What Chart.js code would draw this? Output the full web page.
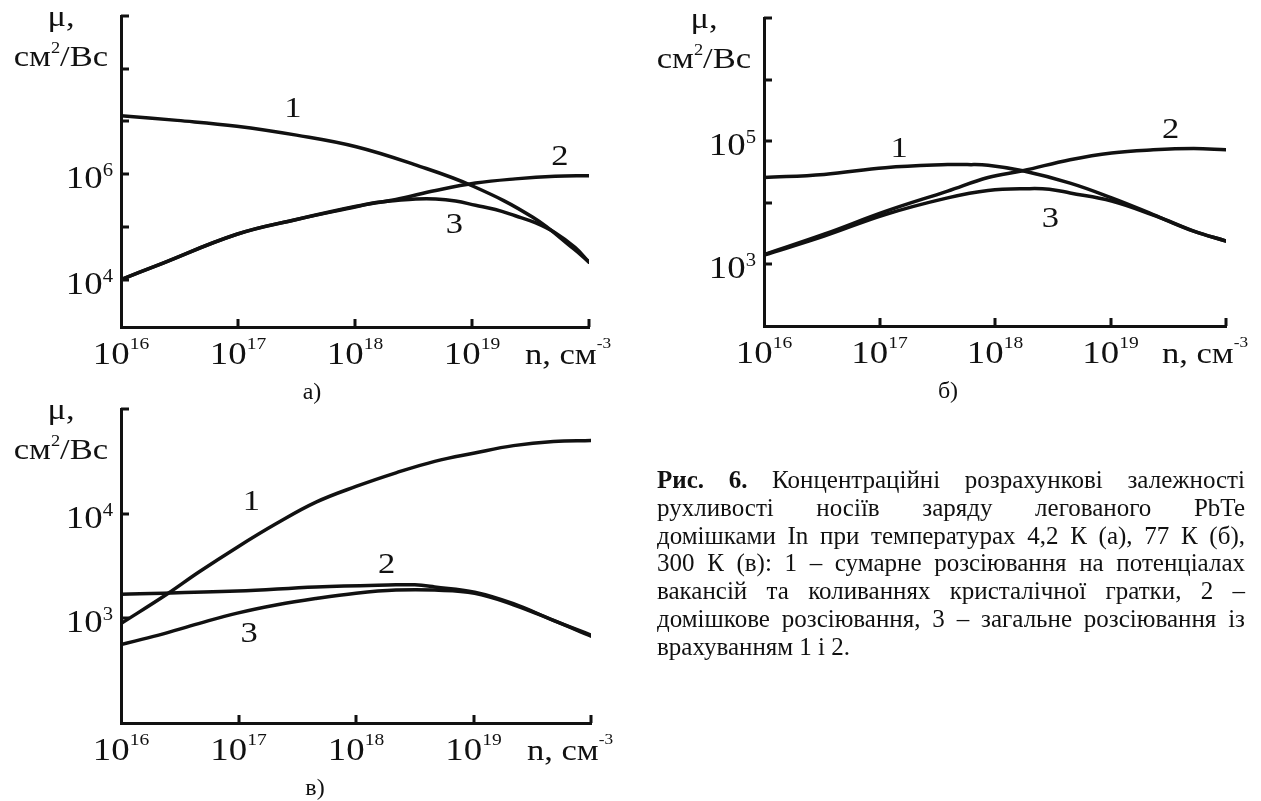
<!DOCTYPE html>
<html>
<head>
<meta charset="utf-8">
<script src="https://cdn.jsdelivr.net/npm/chart.js@4.4.1/dist/chart.umd.min.js"></script>
<style>
html,body{margin:0;padding:0;background:#fff;}
body{width:1261px;height:801px;position:relative;overflow:hidden;}
canvas{position:absolute;left:0;top:0;}
#caption{position:absolute;left:657px;top:466px;width:588px;font-family:"Liberation Serif","Times New Roman",serif;font-size:25px;line-height:27.8px;color:#111;}
#caption .l{text-align:justify;text-align-last:justify;}
#caption .last{text-align:left;}
</style>
</head>
<body>
<canvas id="cA" width="1261" height="801"></canvas>
<canvas id="cB" width="1261" height="801"></canvas>
<canvas id="cC" width="1261" height="801"></canvas>
<div id="caption">
<div class="l"><b>Рис. 6.</b> Концентраційні розрахункові залежності</div>
<div class="l">рухливості носіїв заряду легованого PbTe</div>
<div class="l">домішками In при температурах 4,2 К (а), 77 К (б),</div>
<div class="l">300 К (в): 1 – сумарне розсіювання на потенціалах</div>
<div class="l">вакансій та коливаннях кристалічної гратки, 2 –</div>
<div class="l">домішкове розсіювання, 3 – загальне розсіювання із</div>
<div class="last">врахуванням 1 і 2.</div>
</div>
<script>
// ---------- DATA (log10 values) ----------
// x: log10 n (cm^-3), y: log10 mu (cm^2/Vs)
// Panel а) 4.2 K
const nA1  = [16.0, 16.48, 16.99, 17.50, 18.01, 18.51, 19.01, 19.52, 19.87, 20.0];
const muA1 = [7.11, 7.02, 6.91, 6.74, 6.52, 6.18, 5.77, 5.18, 4.58, 4.33];
const nA2  = [16.0, 16.31, 16.99, 17.50, 18.01, 18.35, 18.69, 19.03, 19.37, 19.71, 20.0];
const muA2 = [4.0, 4.27, 4.86, 5.14, 5.39, 5.52, 5.69, 5.83, 5.91, 5.96, 5.97];
const nA3  = [16.0, 16.31, 16.99, 17.50, 18.01, 18.18, 18.35, 18.52, 18.69, 18.86, 19.03, 19.20, 19.37, 19.54, 19.71, 19.88, 20.0];
const muA3 = [4.0, 4.27, 4.86, 5.14, 5.38, 5.46, 5.50, 5.53, 5.53, 5.49, 5.41, 5.33, 5.21, 5.08, 4.89, 4.61, 4.33];
// Panel б) 77 K
const nB1  = [16.0, 16.52, 17.05, 17.59, 17.76, 17.94, 18.24, 18.65, 19.01, 19.37, 19.72, 20.0];
const muB1 = [4.41, 4.46, 4.57, 4.62, 4.62, 4.61, 4.52, 4.32, 4.08, 3.81, 3.54, 3.38];
const nB2  = [16.0, 16.52, 17.05, 17.59, 17.94, 18.24, 18.65, 19.01, 19.37, 19.72, 20.0];
const muB2 = [3.16, 3.49, 3.86, 4.19, 4.41, 4.52, 4.70, 4.81, 4.86, 4.88, 4.86];
const nB3  = [16.0, 16.52, 17.05, 17.59, 17.94, 18.30, 18.47, 18.65, 19.01, 19.37, 19.72, 20.0];
const muB3 = [3.15, 3.46, 3.81, 4.08, 4.20, 4.23, 4.22, 4.16, 4.03, 3.80, 3.54, 3.38];
// Panel в) 300 K
const nC1  = [16.0, 16.39, 16.66, 16.99, 17.33, 17.66, 18.0, 18.34, 18.67, 19.01, 19.34, 19.68, 20.0];
const muC1 = [2.95, 3.23, 3.44, 3.68, 3.91, 4.11, 4.26, 4.39, 4.50, 4.58, 4.65, 4.69, 4.70];
const nC2  = [16.0, 16.99, 17.66, 18.34, 18.50, 18.67, 19.01, 19.34, 19.68, 20.0];
const muC2 = [3.23, 3.26, 3.30, 3.32, 3.32, 3.30, 3.25, 3.14, 2.98, 2.84];
const nC3  = [16.0, 16.32, 16.66, 16.99, 17.33, 17.66, 18.0, 18.34, 18.67, 19.01, 19.34, 19.68, 20.0];
const muC3 = [2.75, 2.84, 2.95, 3.05, 3.13, 3.19, 3.24, 3.27, 3.27, 3.24, 3.13, 2.98, 2.83];

// tick values (decades) and labelled exponents
const xTickExp   = [16, 17, 18, 19, 20];
const xLabelExp  = ['16', '17', '18', '19'];
const yTickExpA  = [4, 5, 6, 7, 8, 9];
const yLabelExpA = ['4', '6'];
const yTickExpB  = [3, 4, 5, 6, 7];
const yLabelExpB = ['3', '5'];
const yTickExpC  = [3, 4, 5];
const yLabelExpC = ['3', '4'];
// curve number labels: [text, log n, log mu]
const numsA = [['1', 17.47, 7.27], ['2', 19.75, 6.36], ['3', 18.85, 5.07]];
const numsB = [['1', 17.17, 4.91], ['2', 19.52, 5.21], ['3', 18.48, 3.77]];
const numsC = [['1', 17.11, 4.13], ['2', 18.26, 3.53], ['3', 17.09, 2.87]];
const panelTitles = ['а)', 'б)', 'в)'];

// ---------- STYLE / LAYOUT ----------
const INK = '#111';
const FONT = '"Liberation Serif","Times New Roman",serif';
const SX = 1.15;
const W = 1261, H = 801;

function runs(ctx, parts, x, y, align) {
  // parts: [text, size, raise]
  const widths = parts.map(p => { ctx.font = p[1] + 'px ' + FONT; return ctx.measureText(p[0]).width * SX; });
  const w = widths.reduce((s, v) => s + v, 0);
  let cx = align === 'center' ? x - w / 2 : align === 'right' ? x - w : x;
  parts.forEach((p, i) => {
    ctx.save();
    ctx.font = p[1] + 'px ' + FONT;
    ctx.textAlign = 'left'; ctx.textBaseline = 'alphabetic';
    ctx.translate(cx, y - (p[2] || 0));
    ctx.scale(SX, 1);
    ctx.fillText(p[0], 0, 0);
    ctx.restore();
    cx += widths[i];
  });
}

const decor = {
  id: 'decor',
  afterDraw(chart, args, o) {
    const ctx = chart.ctx, a = chart.chartArea;
    const xs = chart.scales.x, ys = chart.scales.y;
    ctx.save();
    ctx.strokeStyle = INK; ctx.fillStyle = INK; ctx.lineWidth = 3; ctx.lineCap = 'butt';
    const T = 8;
    o.yTicks.forEach(e => {
      const py = Math.round(ys.getPixelForValue(Math.pow(10, e)));
      ctx.beginPath(); ctx.moveTo(a.left, py); ctx.lineTo(a.left + T, py); ctx.stroke();
    });
    o.xTicks.forEach(e => {
      if (e === o.xTicks[0]) return;
      const px = Math.round(xs.getPixelForValue(Math.pow(10, e)));
      ctx.beginPath(); ctx.moveTo(px, a.bottom); ctx.lineTo(px, a.bottom - T); ctx.stroke();
    });
    o.yLabels.forEach(e => {
      const py = ys.getPixelForValue(Math.pow(10, +e));
      runs(ctx, [['10', 32, 0], [e, 18, 12]], a.left - 8, py + 14, 'right');
    });
    o.xLabels.forEach(e => {
      const px = xs.getPixelForValue(Math.pow(10, +e));
      runs(ctx, [['10', 32, 0], [e, 17, 15]], px, a.bottom + 37, 'center');
    });
    runs(ctx, [['n, см', 30, 0], ['-3', 15, 16]], a.right - 64, a.bottom + 37, 'left');
    runs(ctx, [['μ,', 30, 0]], a.left - 60, a.top + 10, 'center');
    runs(ctx, [['см', 30, 0], ['2', 16, 13], ['/Вс', 30, 0]], a.left - 13, a.top + 50, 'right');
    o.nums.forEach(n => {
      const px = xs.getPixelForValue(Math.pow(10, n[1]));
      const py = ys.getPixelForValue(Math.pow(10, n[2]));
      runs(ctx, [[n[0], 30, 0]], px, py + 10, 'center');
    });
    ctx.font = '24px ' + FONT; ctx.textAlign = 'center'; ctx.textBaseline = 'alphabetic';
    ctx.fillText(o.title, o.titleX, a.bottom + 72);
    ctx.restore();
  }
};

function makeChart(id, area, yMin, yMax, curves, yTicks, yLabels, nums, title, titleX) {
  const datasets = curves.map(c => ({
    data: c[0].map((v, i) => ({ x: Math.pow(10, v), y: Math.pow(10, c[1][i]) })),
    borderColor: INK, borderWidth: 3.5, pointRadius: 0, fill: false,
    tension: 0.4, borderCapStyle: 'round', borderJoinStyle: 'round'
  }));
  const fitY = s => { s.width = 0; };
  const fitX = s => { s.height = 0; };
  return new Chart(document.getElementById(id), {
    type: 'line',
    data: { datasets },
    options: {
      responsive: false, animation: false, devicePixelRatio: 1,
      layout: { padding: { left: area[0], top: area[1], right: W - area[2], bottom: H - area[3] } },
      plugins: {
        legend: { display: false }, tooltip: { enabled: false },
        decor: { yTicks, yLabels, xTicks: xTickExp, xLabels: xLabelExp, nums, title, titleX }
      },
      scales: {
        x: { type: 'logarithmic', min: 1e16, max: 1e20, afterFit: fitX,
             ticks: { display: false }, grid: { display: false },
             border: { display: true, color: INK, width: 3 } },
        y: { type: 'logarithmic', min: yMin, max: yMax, afterFit: fitY,
             ticks: { display: false }, grid: { display: false },
             border: { display: true, color: INK, width: 3 } }
      }
    },
    plugins: [decor]
  });
}

makeChart('cA', [121, 16, 589, 327], Math.pow(10, 3.1), 1e9,
  [[nA1, muA1], [nA2, muA2], [nA3, muA3]], yTickExpA, yLabelExpA, numsA, panelTitles[0], 312);
makeChart('cB', [764, 18, 1226, 326], 1e2, 1e7,
  [[nB1, muB1], [nB2, muB2], [nB3, muB3]], yTickExpB, yLabelExpB, numsB, panelTitles[1], 948);
makeChart('cC', [121, 409, 591, 723], 1e2, 1e5,
  [[nC1, muC1], [nC2, muC2], [nC3, muC3]], yTickExpC, yLabelExpC, numsC, panelTitles[2], 315);
</script>
</body>
</html>
